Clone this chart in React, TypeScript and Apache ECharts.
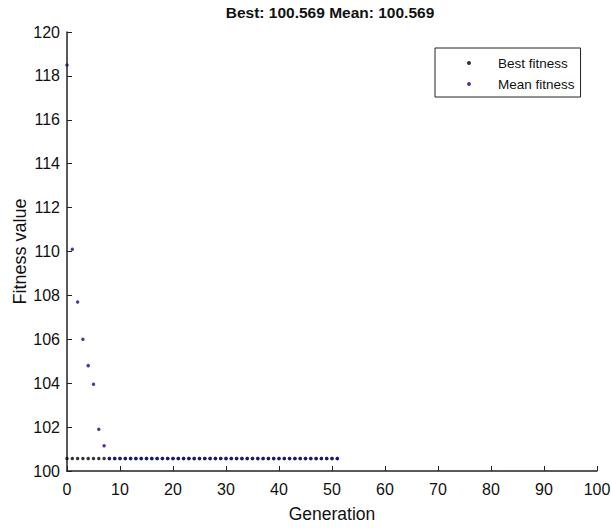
import React, { useEffect, useRef } from "react";
import * as echarts from "echarts";

const titleText = "Best: 100.569 Mean: 100.569";
const generationsCount = 52;
const bestValue = 100.569;
const meanEarly = [118.5, 110.1, 107.7, 106.0, 104.8, 103.95, 101.9, 101.15];
const xTicks = { min: 0, max: 100, interval: 10 };
const yTicks = { min: 100, max: 120, interval: 2 };

const generations: number[] = Array.from({ length: generationsCount }, (_, i) => i);
const bestSeries = generations.map((g) => [g, bestValue]);
const meanSeries = generations.map((g) => [g, g < meanEarly.length ? meanEarly[g] : bestValue]);

export default function App() {
  const ref = useRef<HTMLDivElement>(null);
  useEffect(() => {
    if (!ref.current) return;
    const chart = echarts.init(ref.current, null, { renderer: "svg" });
    const font = "Liberation Sans, Arial, sans-serif";
    chart.setOption({
      animation: false,
      backgroundColor: "#fff",
      title: {
        text: titleText,
        left: 330,
        textAlign: "center",
        top: 4,
        padding: 0,
        textStyle: { fontFamily: font, fontSize: 15.5, fontWeight: "bold", color: "#111" },
      },
      grid: {
        left: 67,
        right: 14,
        top: 32,
        bottom: 57,
        containLabel: false,
        outerBoundsMode: "none",
      },
      legend: {
        orient: "vertical",
        left: 435,
        top: 48,
        borderColor: "#222",
        borderWidth: 1,
        padding: [8, 6, 6, 32],
        itemGap: 7,
        itemWidth: 4,
        itemHeight: 4,
        icon: "circle",
        textStyle: { fontFamily: font, fontSize: 13.5, color: "#111", padding: [0, 0, 0, 22] },
        data: ["Best fitness", "Mean fitness"],
      },
      xAxis: {
        type: "value",
        min: xTicks.min,
        max: xTicks.max,
        interval: xTicks.interval,
        name: "Generation",
        nameLocation: "middle",
        nameGap: 34,
        nameMoveOverlap: false,
        nameTextStyle: { fontFamily: font, fontSize: 17.5, color: "#111" },
        axisLine: { onZero: false, lineStyle: { color: "#222", width: 1.5 } },
        axisTick: { inside: true, length: 5, lineStyle: { color: "#222" } },
        axisLabel: { fontFamily: font, fontSize: 16, color: "#111", margin: 10 },
        splitLine: { show: false },
      },
      yAxis: {
        type: "value",
        min: yTicks.min,
        max: yTicks.max,
        interval: yTicks.interval,
        name: "Fitness value",
        nameLocation: "middle",
        nameGap: 38,
        nameMoveOverlap: false,
        nameTextStyle: { fontFamily: font, fontSize: 18, color: "#111" },
        axisLine: { show: true, onZero: false, lineStyle: { color: "#222", width: 1.5 } },
        axisTick: { show: true, inside: true, length: 5, lineStyle: { color: "#222" } },
        axisLabel: { fontFamily: font, fontSize: 16, color: "#111", margin: 7 },
        splitLine: { show: false },
      },
      series: [
        {
          name: "Best fitness",
          type: "scatter",
          data: bestSeries,
          symbol: "circle",
          symbolSize: 3.5,
          itemStyle: { color: "#000000" },
        },
        {
          name: "Mean fitness",
          type: "scatter",
          data: meanSeries,
          symbol: "circle",
          symbolSize: 3.5,
          itemStyle: { color: "#10108a" },
        },
      ],
    });
    return () => chart.dispose();
  }, []);
  return (
    <div
      ref={ref}
      style={{ position: "absolute", left: 0, top: 0, width: 611, height: 528 }}
    />
  );
}
